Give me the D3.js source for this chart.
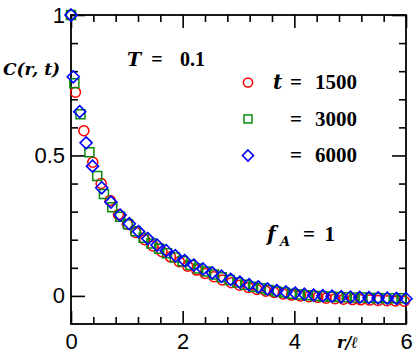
<!DOCTYPE html>
<html><head><meta charset="utf-8">
<script src="https://cdn.jsdelivr.net/npm/d3@7/dist/d3.min.js"></script>
<style>body{margin:0;background:#fff}svg{display:block}</style>
</head><body>
<svg id="c" width="417" height="361"></svg>
<script>
// ---- data ----
const xMajor = [0, 2, 4, 6];
const yMajor = [0, 0.5, 1];
const yMajorLabels = ["0", "0.5", "1"];
const seriesNames = ["t = 1500", "= 3000", "= 6000"];

const redX = [0,0.08,0.23,0.39,0.54,0.70,0.85,1.01,1.16,1.32,1.47,1.63,1.78,1.94,2.09,2.25,2.40,2.56,2.71,2.87,3.02,3.18,3.33,3.49,3.64,3.80,3.95,4.11,4.26,4.42,4.57,4.73,4.88,5.04,5.19,5.35,5.50,5.66,5.81,5.97];
const redY = [1.0,0.725,0.588,0.476,0.400,0.340,0.290,0.255,0.226,0.200,0.178,0.157,0.139,0.122,0.106,0.092,0.080,0.068,0.057,0.047,0.038,0.030,0.023,0.017,0.012,0.007,0.003,0.000,-0.003,-0.005,-0.008,-0.010,-0.012,-0.013,-0.014,-0.015,-0.016,-0.017,-0.018,-0.019];

const greenX = [0,0.06,0.17,0.33,0.47,0.59,0.74,0.88,1.02,1.16,1.30,1.44,1.58,1.72,1.86,2.00,2.14,2.28,2.42,2.56,2.70,2.84,2.98,3.12,3.26,3.40,3.54,3.68,3.82,3.96,4.10,4.24,4.38,4.52,4.66,4.80,4.94,5.08,5.22,5.36,5.50,5.64,5.78,5.92];
const greenY = [1.0,0.757,0.647,0.511,0.427,0.363,0.316,0.282,0.255,0.230,0.207,0.187,0.168,0.152,0.137,0.123,0.110,0.098,0.087,0.076,0.066,0.057,0.048,0.040,0.033,0.027,0.021,0.016,0.012,0.008,0.005,0.002,0.000,-0.002,-0.003,-0.004,-0.005,-0.006,-0.006,-0.007,-0.007,-0.008,-0.008,-0.008];

const blueX = [0,0.04,0.155,0.27,0.385,0.55,0.715,0.88,1.045,1.21,1.375,1.54,1.705,1.87,2.035,2.2,2.365,2.53,2.695,2.86,3.025,3.19,3.355,3.52,3.685,3.85,4.015,4.18,4.345,4.51,4.675,4.84,5.005,5.17,5.335,5.5,5.665,5.83,6.0];
const blueY = [1.0,0.78,0.656,0.545,0.462,0.385,0.334,0.288,0.257,0.229,0.204,0.181,0.161,0.143,0.126,0.110,0.096,0.082,0.070,0.059,0.049,0.040,0.032,0.025,0.019,0.014,0.010,0.006,0.003,0.001,-0.001,-0.003,-0.004,-0.005,-0.006,-0.007,-0.008,-0.009,-0.010];

// ---- chart ----
const svg = d3.select("#c");
const L = 71, R = 406, T = 15, B = 324;
const x = d3.scaleLinear().domain([0, 6]).range([L, R]);
const y = d3.scaleLinear().domain([-0.1, 1]).range([B, T]);

const xMinor = d3.range(0.4, 6, 0.4).filter(v => Math.abs(v/2 - Math.round(v/2)) > 1e-6);
const yMinor = d3.range(0.1, 1, 0.1).filter(v => Math.abs(v - 0.5) > 1e-6);

function styleAxis(g){ g.select(".domain").remove(); g.selectAll("line").attr("stroke","#000").attr("stroke-width",1.6); }
const sans = "Liberation Sans, Arial, sans-serif";

svg.append("g").attr("transform",`translate(0,${B})`)
  .call(d3.axisBottom(x).tickValues(xMajor).tickSize(-13).tickPadding(9).tickFormat(d3.format("d")))
  .call(styleAxis)
  .call(g=>g.selectAll("text").attr("font-family",sans).attr("font-size",22).attr("fill","#000"));
svg.append("g").attr("transform",`translate(0,${B})`)
  .call(d3.axisBottom(x).tickValues(xMinor).tickSize(-7).tickFormat(""))
  .call(styleAxis);
svg.append("g").attr("transform",`translate(0,${T})`)
  .call(d3.axisTop(x).tickValues(xMajor).tickSize(-13).tickFormat(""))
  .call(styleAxis);
svg.append("g").attr("transform",`translate(0,${T})`)
  .call(d3.axisTop(x).tickValues(xMinor).tickSize(-7).tickFormat(""))
  .call(styleAxis);
svg.append("g").attr("transform",`translate(${L},0)`)
  .call(d3.axisLeft(y).tickValues(yMajor).tickSize(-14).tickPadding(6).tickFormat((d,i)=>yMajorLabels[i]))
  .call(styleAxis)
  .call(g=>g.selectAll("text").attr("font-family",sans).attr("font-size",22).attr("fill","#000"));
svg.append("g").attr("transform",`translate(${L},0)`)
  .call(d3.axisLeft(y).tickValues(yMinor).tickSize(-7).tickFormat(""))
  .call(styleAxis);
svg.append("g").attr("transform",`translate(${R},0)`)
  .call(d3.axisRight(y).tickValues(yMajor).tickSize(-14).tickFormat(""))
  .call(styleAxis);
svg.append("g").attr("transform",`translate(${R},0)`)
  .call(d3.axisRight(y).tickValues(yMinor).tickSize(-7).tickFormat(""))
  .call(styleAxis);

svg.append("rect").attr("x",L).attr("y",T).attr("width",R-L).attr("height",B-T)
  .attr("fill","none").attr("stroke","#000").attr("stroke-width",1.8);

const red="#ff0000", green="#0a8a0a", blue="#0000ff";
const sqSym = d3.symbol().type(d3.symbolSquare).size(81);
const diaPath = s => `M0,${-s}L${s},0L0,${s}L${-s},0Z`;

const gData = svg.append("g");
gData.selectAll("circle.r").data(redX.map((v,i)=>[v,redY[i]])).join("circle")
  .attr("cx",d=>x(d[0])).attr("cy",d=>y(d[1])).attr("r",5)
  .attr("fill","none").attr("stroke",red).attr("stroke-width",1.5);
gData.selectAll("path.g").data(greenX.map((v,i)=>[v,greenY[i]])).join("path").attr("class","g")
  .attr("d",sqSym).attr("transform",d=>`translate(${x(d[0])},${y(d[1])})`)
  .attr("fill","none").attr("stroke",green).attr("stroke-width",1.5);
gData.selectAll("path.b").data(blueX.map((v,i)=>[v,blueY[i]])).join("path").attr("class","b")
  .attr("d",diaPath(6)).attr("transform",d=>`translate(${x(d[0])},${y(d[1])})`)
  .attr("fill","none").attr("stroke",blue).attr("stroke-width",1.6);

const serif = "Liberation Serif, DejaVu Serif, serif";
const iserif = "DejaVu Serif, Liberation Serif, serif";
svg.append("circle").attr("cx",248).attr("cy",82.5).attr("r",4.6).attr("fill","none").attr("stroke",red).attr("stroke-width",1.5);
svg.append("path").attr("d",d3.symbol().type(d3.symbolSquare).size(64)).attr("transform","translate(248,119)").attr("fill","none").attr("stroke",green).attr("stroke-width",1.5);
svg.append("path").attr("d",diaPath(5.5)).attr("transform","translate(248,155.5)").attr("fill","none").attr("stroke",blue).attr("stroke-width",1.6);

function txt(xp, yp, s, opts={}){
  const t = svg.append("text").attr("x",xp).attr("y",yp).text(s)
    .attr("font-family",opts.italic?iserif:serif).attr("font-size",opts.size||21).attr("fill","#000")
    .attr("font-weight","bold");
  if(opts.italic) t.attr("font-style","italic");
  if(opts.anchor) t.attr("text-anchor",opts.anchor);
  return t;
}
const legY = [89, 125.5, 162];
const legNums = ["1500","3000","6000"];
txt(273, legY[0], "t", {italic:true, size:20});
legY.forEach((yy,i)=>{
  txt(296, yy, "=", {anchor:"middle"});
  txt(357, yy, legNums[i], {anchor:"end"});
});

txt(127, 66, "T", {italic:true, size:19});
txt(157, 66, "=", {anchor:"middle", size:20});
txt(205, 66, "0.1", {anchor:"end", size:20});

txt(267, 241, "f", {italic:true, size:20});
txt(280, 246, "A", {italic:true, size:13});
txt(309, 241, "=", {anchor:"middle", size:21});
txt(335, 241, "1", {anchor:"end", size:21});

txt(337, 348, "r/ℓ", {italic:true, size:16});
txt(3, 75, "C(r, t)", {italic:true, size:17});
</script>
</body></html>
